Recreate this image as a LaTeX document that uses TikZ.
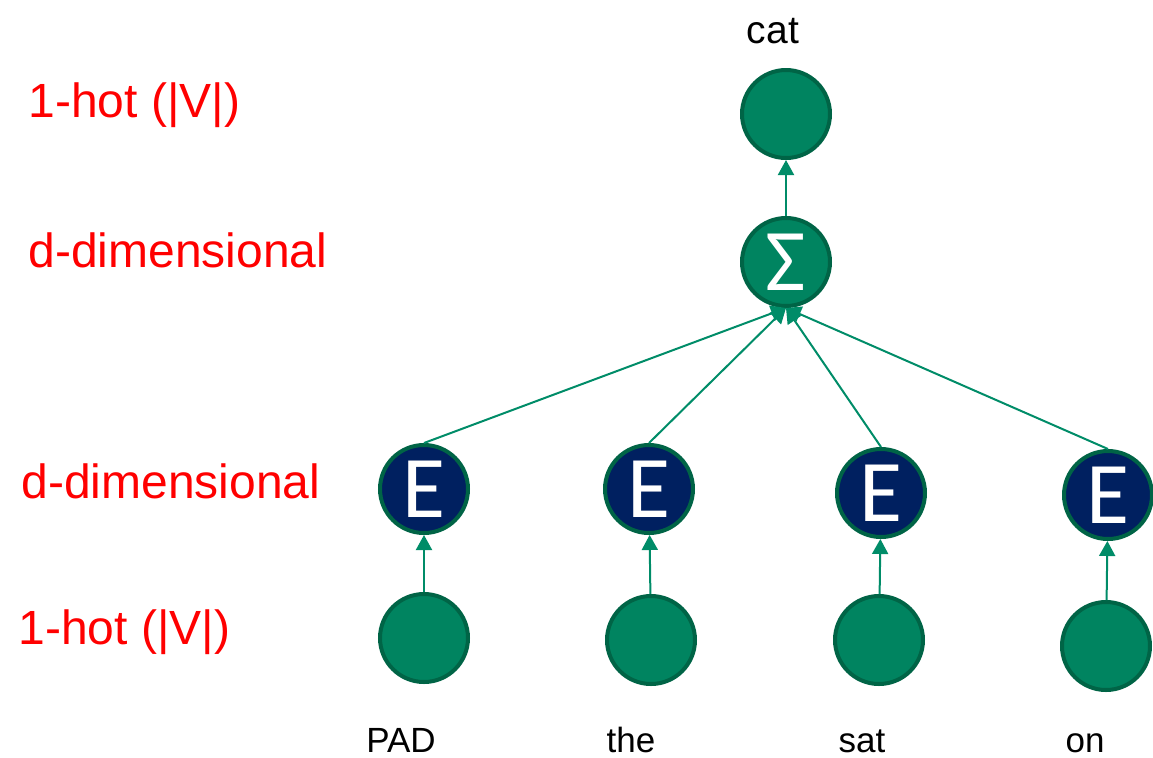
\documentclass[tikz,border=0pt]{standalone}
\usepackage{fontspec}
\setmainfont{Liberation Sans}
\newfontfamily\carlito{Carlito}
\usetikzlibrary{arrows.meta}
\definecolor{nodegreen}{RGB}{0,132,96}
\definecolor{rimgreen}{RGB}{0,100,70}
\definecolor{linegreen}{RGB}{0,140,104}
\definecolor{embblue}{RGB}{0,32,96}

\begin{document}
\begin{tikzpicture}[x=0.5pt,y=-0.5pt,
  unit/.style={circle,draw=rimgreen,line width=2pt,fill=nodegreen,minimum size=44pt,inner sep=0pt},
  emb/.style={unit,fill=embblue,text=white,font=\carlito\fontsize{44}{44}\selectfont},
  sumunit/.style={unit,text=white,font=\carlito\fontsize{44}{44}\selectfont},
  lbl/.style={text=red,anchor=base west,inner sep=0pt,font=\fontsize{24}{24}\selectfont},
  word/.style={anchor=base,inner sep=0pt,font=\fontsize{17.5}{18}\selectfont},
  link/.style={draw=linegreen,line width=1pt,-{Triangle[width=8pt,length=7.5pt]}}]
\useasboundingbox (0,0) rectangle (1153,757);

\node[lbl] (l1) at (28,117) {1-hot (|V|)};
\node[lbl] (l2) at (28,267) {d-dimensional};
\node[lbl] (l3) at (21,498) {d-dimensional};
\node[lbl] (l4) at (18,644) {1-hot (|V|)};

\node[unit] (out) at (786,114) {};
\node[word,font=\fontsize{19.5}{20}\selectfont] (target) at (773,43) {cat};
\node[sumunit] (sum) at (786,262) {Σ};

\node[emb] (e1) at (424,489) {E};
\node[emb] (e2) at (649,489) {E};
\node[emb] (e3) at (881,493) {E};
\node[emb] (e4) at (1108,495) {E};

\node[unit] (w1) at (424,638) {};
\node[unit] (w2) at (651,640) {};
\node[unit] (w3) at (879,640) {};
\node[unit] (w4) at (1106,646) {};

\node[word] (t1) at (401,752) {PAD};
\node[word] (t2) at (631,752) {the};
\node[word] (t3) at (862,752) {sat};
\node[word] (t4) at (1085,752) {on};

\draw[link] (sum) -- (out);
\foreach \i in {1,...,4} {
  \draw[link] (w\i) -- (e\i);
  \draw[link] (e\i.north) -- (sum.south);
}
\end{tikzpicture}
\end{document}
